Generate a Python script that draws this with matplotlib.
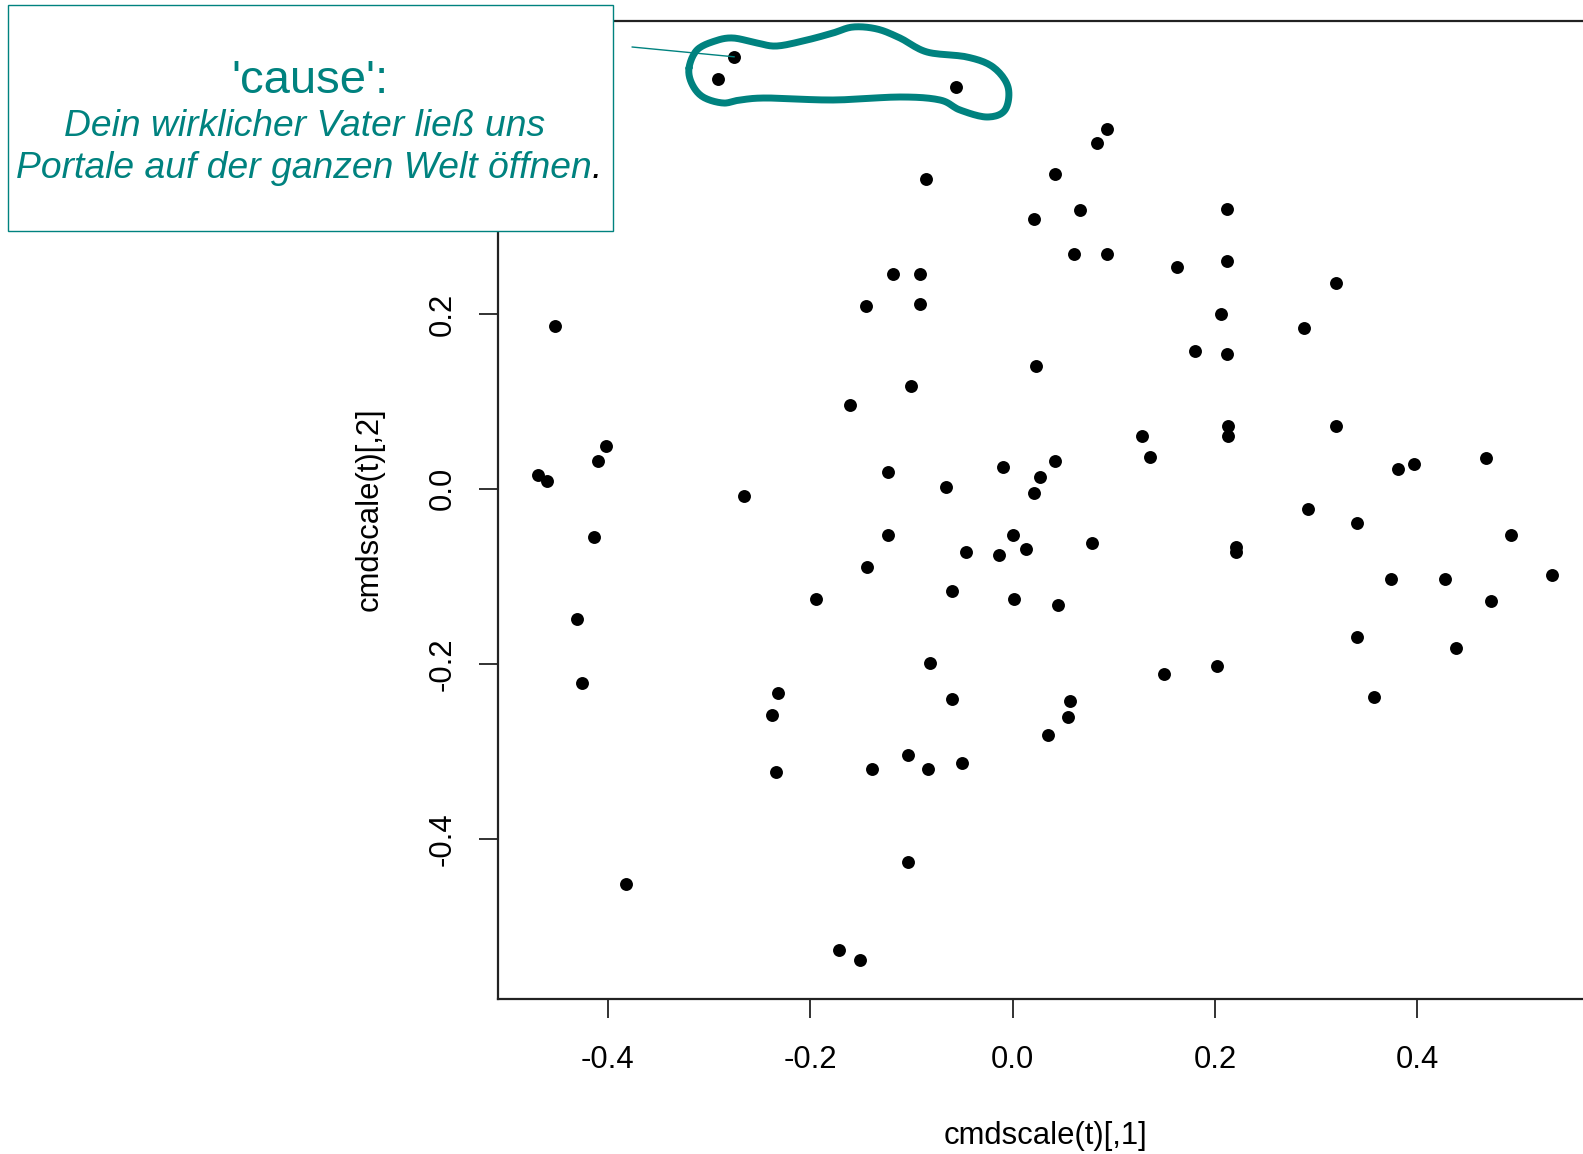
import matplotlib
matplotlib.use("Agg")
import matplotlib.pyplot as plt
import numpy as np
from matplotlib.patches import Rectangle
from matplotlib.lines import Line2D

plt.rcParams['font.family'] = ['Liberation Sans', 'DejaVu Sans']
plt.rcParams['axes.unicode_minus'] = False

# MDS coordinates, first and second dimension
dim1 = [-0.275, -0.291, -0.056, 0.093, 0.083, -0.086, 0.042, 0.021, 0.067, 0.212,
        0.061, 0.093, 0.212, 0.162, -0.118, -0.092, 0.320, -0.145, -0.092, 0.206,
        -0.452, 0.288, 0.180, 0.212, 0.023, -0.100, -0.161, 0.213, 0.320, 0.128,
        0.213, -0.402, 0.136, 0.468, -0.410, 0.042, 0.397, -0.010, 0.381, -0.123,
        -0.469, 0.027, -0.460, -0.066, 0.021, -0.265, 0.292, 0.340, -0.123, 0.000,
        0.492, -0.414, 0.078, 0.013, -0.046, 0.221, 0.221, -0.013, -0.144, 0.533,
        0.374, 0.427, -0.060, -0.194, 0.001, 0.473, 0.045, -0.430, 0.340, 0.438,
        -0.082, 0.202, 0.150, -0.426, -0.232, 0.357, -0.060, 0.057, -0.238, 0.055,
        0.035, -0.050, -0.103, -0.139, -0.084, -0.234, -0.103, -0.382, -0.172, -0.151]
dim2 = [0.494, 0.469, 0.459, 0.412, 0.396, 0.354, 0.360, 0.309, 0.319, 0.320,
        0.268, 0.268, 0.261, 0.254, 0.246, 0.246, 0.235, 0.209, 0.211, 0.200,
        0.186, 0.184, 0.158, 0.154, 0.140, 0.118, 0.096, 0.072, 0.072, 0.060,
        0.061, 0.049, 0.037, 0.035, 0.032, 0.032, 0.028, 0.025, 0.023, 0.019,
        0.016, 0.014, 0.009, 0.002, -0.005, -0.008, -0.023, -0.039, -0.053, -0.053,
        -0.053, -0.055, -0.062, -0.069, -0.072, -0.066, -0.072, -0.076, -0.089, -0.098,
        -0.103, -0.103, -0.117, -0.126, -0.126, -0.128, -0.133, -0.149, -0.169, -0.182,
        -0.199, -0.203, -0.212, -0.222, -0.233, -0.238, -0.240, -0.242, -0.259, -0.261,
        -0.282, -0.313, -0.304, -0.320, -0.320, -0.324, -0.427, -0.452, -0.527, -0.539]

xticks = [-0.4, -0.2, 0.0, 0.2, 0.4]
yticks = [-0.4, -0.2, 0.0, 0.2]

teal = '#00827f'
W, H = 1583, 1154

fig = plt.figure(figsize=(W / 100, H / 100), dpi=100)
ax = fig.add_axes([0.3143, 0.1347, 0.6917, 0.8475])

ax.plot(dim1, dim2, 'o', color='black', markersize=9.3, markeredgewidth=0)
ax.set_xlim(-0.509, 0.573)
ax.set_ylim(-0.5828, 0.5355)

for s in ax.spines.values():
    s.set_linewidth(1.6)
    s.set_color('#222222')

ax.set_xticks(xticks)
ax.set_xticklabels(['%.1f' % v for v in xticks], fontsize=22.3)
ax.set_yticks(yticks)
ax.set_yticklabels(['%.1f' % v for v in yticks], fontsize=22.3, rotation=90, va='center')
ax.tick_params(direction='out', length=13.5, width=1.3, color='#222222')
ax.tick_params(axis='x', pad=20)
ax.tick_params(axis='y', pad=15)

ax.set_xlabel('cmdscale(t)[,1]', fontsize=22.3, va='center')
ax.xaxis.set_label_coords(0.5, -0.1405)
ax.set_ylabel('cmdscale(t)[,2]', fontsize=22.3, va='center')
ax.yaxis.set_label_coords(-0.1165, 0.5)


def fx(px):
    return px / W


def fy(py):
    return 1 - py / H


# text box with the quote
box = Rectangle((fx(8), fy(231)), fx(613) - fx(8), fy(5) - fy(231),
                transform=fig.transFigure, facecolor='white', edgecolor=teal,
                linewidth=1.0, zorder=5)
fig.add_artist(box)

fig.text(fx(310), fy(93), "'cause':", fontsize=34, color=teal,
         ha='center', va='baseline', zorder=6)
fig.text(fx(305), fy(136), "Dein wirklicher Vater ließ uns", fontsize=26.8,
         style='italic', color=teal, ha='center', va='baseline', zorder=6)
fig.text(fx(592), fy(178), "Portale auf der ganzen Welt öffnen", fontsize=26.8,
         style='italic', color=teal, ha='right', va='baseline', zorder=6)
fig.text(fx(592), fy(178), ".", fontsize=26.8, style='italic', color='black',
         ha='left', va='baseline', zorder=6)

# leader line to the first point
ax.annotate('', xy=(dim1[0], dim2[0]), xycoords='data',
            xytext=(fx(632), fy(47)), textcoords='figure fraction',
            arrowprops=dict(arrowstyle='-', color=teal, lw=1.0,
                            shrinkA=0, shrinkB=0),
            annotation_clip=False, zorder=6)

# freehand loop around the three points at the top
loop_px = [(689, 68), (697, 50), (715, 41), (733, 38), (757, 43), (777, 46),
           (807, 40), (833, 33), (853, 27), (877, 29), (900, 38), (927, 52),
           (967, 57), (993, 67), (1008, 87), (1005, 110), (987, 117), (960, 110),
           (940, 100), (900, 97), (833, 100), (767, 98), (740, 100),
           (723, 103), (703, 97), (692, 84)]
pts = np.array(loop_px, dtype=float)
n = len(pts)
curve = []
for i in range(n):
    p0, p1, p2, p3 = pts[i - 1], pts[i], pts[(i + 1) % n], pts[(i + 2) % n]
    for t in np.linspace(0, 1, 12, endpoint=False):
        t2, t3 = t * t, t * t * t
        curve.append(0.5 * ((2 * p1) + (-p0 + p2) * t +
                            (2 * p0 - 5 * p1 + 4 * p2 - p3) * t2 +
                            (-p0 + 3 * p1 - 3 * p2 + p3) * t3))
curve.append(curve[0])
curve = np.array(curve)
fig.add_artist(Line2D(fx(curve[:, 0]), fy(curve[:, 1]), transform=fig.transFigure,
                      color=teal, linewidth=5, solid_capstyle='round',
                      solid_joinstyle='round', zorder=6))

fig.savefig('out.png', dpi=100)
